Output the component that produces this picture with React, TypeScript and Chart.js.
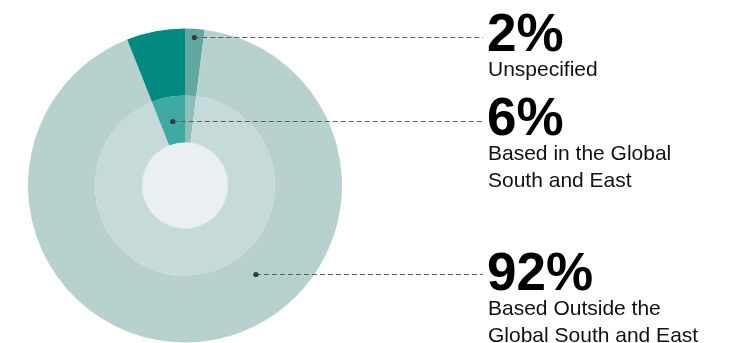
import React, { useEffect, useRef } from "react";
import { Chart, registerables } from "chart.js";

Chart.register(...registerables);

// ---- data ----
const categories = [
  "Unspecified",
  "Based Outside the Global South and East",
  "Based in the Global South and East",
];
const shares = [2, 92, 6];
const shareLabels = ["2%", "92%", "6%"];
const labelLines = [
  ["Unspecified"],
  ["Based Outside the", "Global South and East"],
  ["Based in the Global", "South and East"],
];

// ---- styles ----
const outerColors = ["#62a8a1", "#b7d1cf", "#008a80"];
const middleColors = ["#8cbfba", "#c6dbd9", "#3faaa2"];
const centerColor = "#e9eff2";
const ringWeights = [67, 47, 43];

// leader anchors: fraction of outer radius; angle override (deg clockwise from top) or null = slice middle
const anchorRadius = [0.946, 0.724, 0.416];
const anchorAngle: (number | null)[] = [null, 141.4, null];
const leaderEndX = 483;

// label layout (baselines of the big numbers)
const numberBaselines = [51, 290, 135];
const textLeft = 487;
const numberSize = 53;
const textSize = 21;
const textGap = 25;
const lineStep = 26.5;
const FONT = '"Liberation Sans", Arial, Helvetica, sans-serif';

const leaderPlugin = {
  id: "leaders",
  afterDatasetsDraw(chart: any) {
    const meta = chart.getDatasetMeta(0);
    const ctx = chart.ctx;
    ctx.save();
    meta.data.forEach((arc: any, i: number) => {
      const p = arc.getProps(["x", "y", "startAngle", "endAngle", "outerRadius"], true);
      const a =
        anchorAngle[i] === null
          ? (p.startAngle + p.endAngle) / 2
          : ((anchorAngle[i] as number) * Math.PI) / 180 - Math.PI / 2;
      const r = p.outerRadius * anchorRadius[i];
      const dx = p.x + Math.cos(a) * r;
      const dy = Math.round(p.y + Math.sin(a) * r) + 0.5;
      ctx.strokeStyle = "#5a5f5f";
      ctx.lineWidth = 1;
      ctx.setLineDash([5, 3]);
      ctx.beginPath();
      ctx.moveTo(dx, dy);
      ctx.lineTo(leaderEndX, dy);
      ctx.stroke();
      ctx.setLineDash([]);
      ctx.fillStyle = "#333a3a";
      ctx.beginPath();
      ctx.arc(dx, dy, 2.6, 0, Math.PI * 2);
      ctx.fill();
    });
    ctx.restore();
  },
};

export default function App() {
  const canvasRef = useRef<HTMLCanvasElement | null>(null);

  useEffect(() => {
    if (!canvasRef.current) return;
    const chart = new Chart(canvasRef.current, {
      type: "doughnut",
      data: {
        labels: categories,
        datasets: [
          { data: shares, backgroundColor: outerColors, borderWidth: 0, weight: ringWeights[0] } as any,
          { data: shares, backgroundColor: middleColors, borderWidth: 0, weight: ringWeights[1] } as any,
          {
            data: shares,
            backgroundColor: centerColor,
            borderColor: centerColor,
            borderWidth: 1,
            borderAlign: "inner",
            weight: ringWeights[2],
          } as any,
        ],
      },
      options: {
        responsive: false,
        animation: false,
        devicePixelRatio: 1,
        cutout: 0,
        events: [],
        layout: { padding: { left: 28, right: 387, top: 28, bottom: 0 } },
        plugins: { legend: { display: false }, tooltip: { enabled: false } },
      } as any,
      plugins: [leaderPlugin],
    });
    return () => chart.destroy();
  }, []);

  const asc = 0.8465; // baseline offset (fraction of font size) with line-height 1
  return (
    <div style={{ position: "absolute", left: 0, top: 0, width: 729, height: 343, background: "#fff" }}>
      <canvas ref={canvasRef} width={729} height={343} style={{ position: "absolute", left: 0, top: 0 }} />
      {categories.map((c, i) => (
        <React.Fragment key={c}>
          <div
            style={{
              position: "absolute",
              left: textLeft,
              top: numberBaselines[i] - asc * numberSize,
              fontFamily: FONT,
              fontWeight: 700,
              fontSize: numberSize,
              lineHeight: 1,
              color: "#000",
              whiteSpace: "nowrap",
            }}
          >
            {shareLabels[i]}
          </div>
          {labelLines[i].map((t, j) => (
            <div
              key={t}
              style={{
                position: "absolute",
                left: textLeft + 1,
                top: numberBaselines[i] + textGap + j * lineStep - asc * textSize,
                fontFamily: FONT,
                fontSize: textSize,
                lineHeight: 1,
                color: "#111",
                whiteSpace: "nowrap",
              }}
            >
              {t}
            </div>
          ))}
        </React.Fragment>
      ))}
    </div>
  );
}
